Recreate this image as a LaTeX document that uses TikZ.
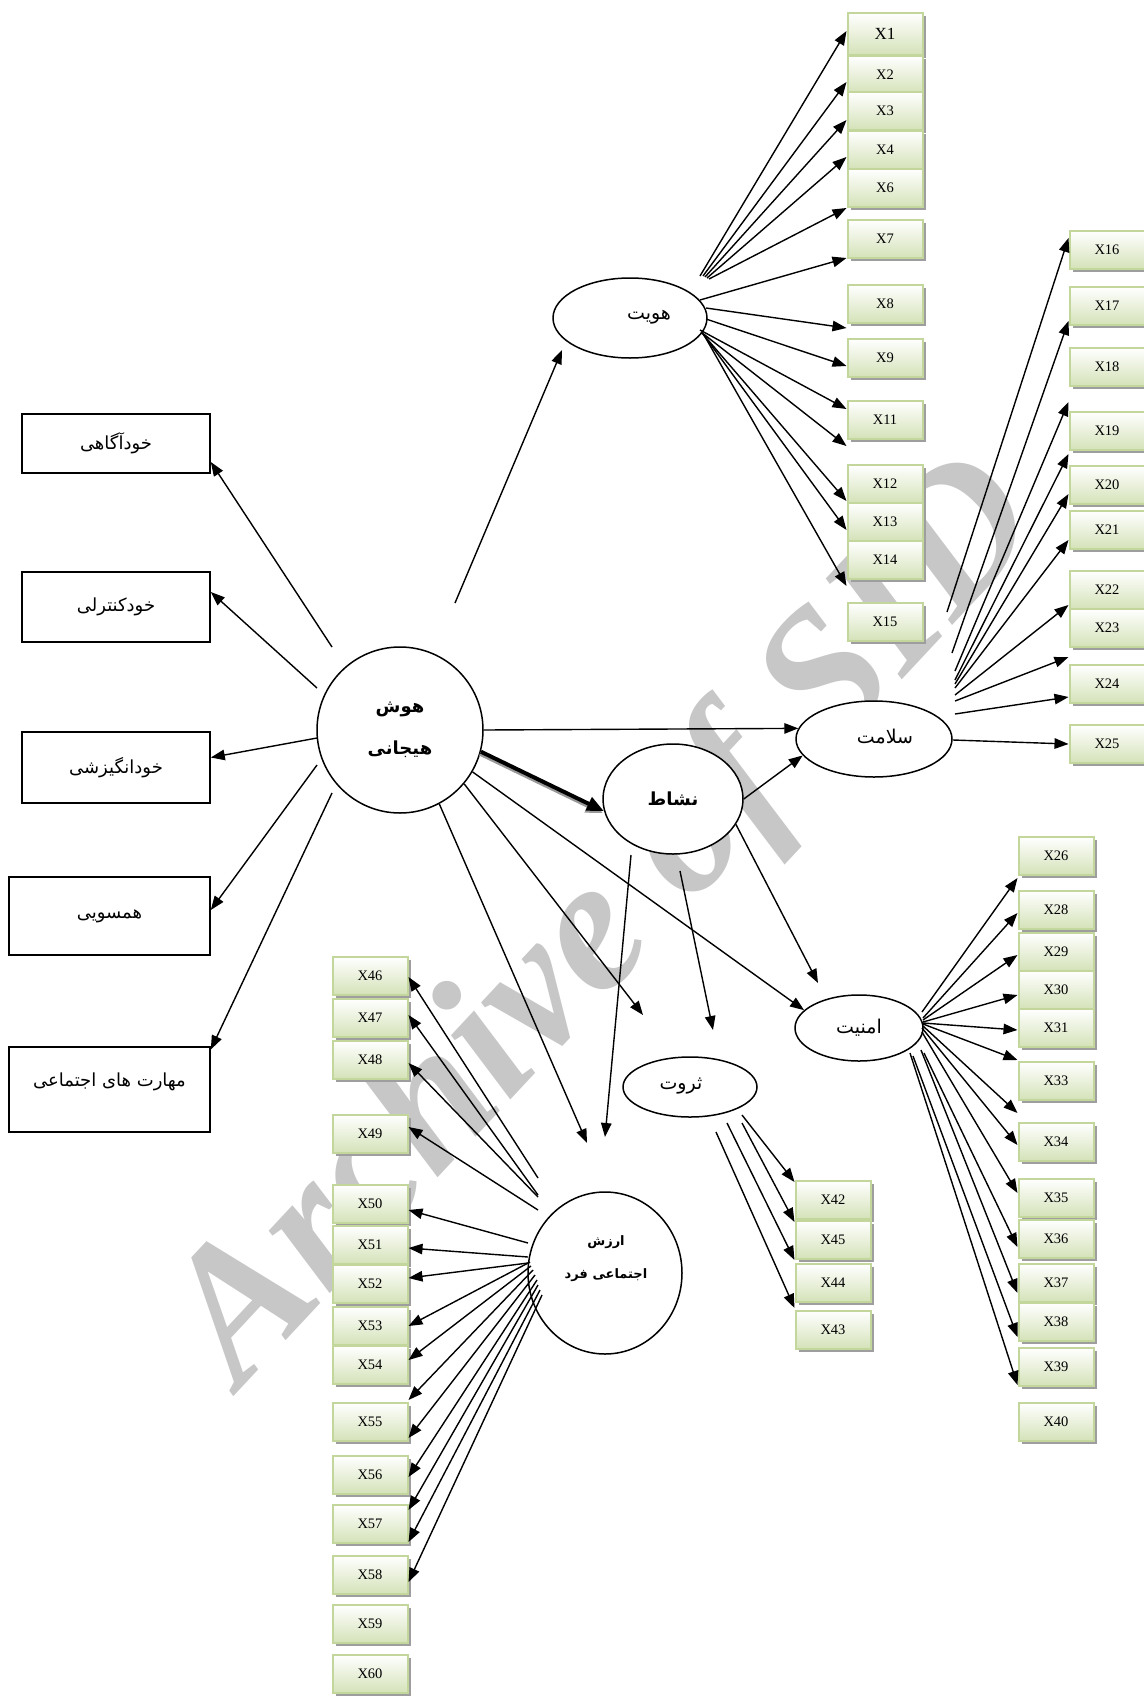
\documentclass[tikz,border=0pt]{standalone}
\usepackage{fontspec}
\setmainfont{Liberation Serif}
\newfontfamily\fa[Script=Arabic]{DejaVu Sans}
\TeXXeTstate=1
\usetikzlibrary{arrows.meta,shapes.geometric,shadows}
\definecolor{xgreen}{RGB}{195,214,155}
\definecolor{xlight}{RGB}{212,226,184}
\newcommand{\fatext}[1]{{\fa\beginR #1\endR}}
\tikzset{
  arr/.style={-{Triangle[length=14pt,width=10.5pt]}, line width=1.4pt},
  xbox/.style={draw=xgreen, line width=2pt, top color=white, bottom color=xlight,
    minimum width=75pt, minimum height=38pt, inner sep=0pt, font=\fontsize{14.5}{14}\selectfont,
    drop shadow={shadow xshift=3pt, shadow yshift=-3pt, fill=black!38, opacity=1}},
  fbox/.style={draw, line width=1.6pt, fill=white, inner sep=0pt, font=\fontsize{18}{20}\selectfont},
  lat/.style={ellipse, draw, fill=white, line width=1.5pt, inner sep=0pt},
  lab/.style={inner sep=0pt, font=\fontsize{19}{20}\selectfont}
}

\begin{document}
\begin{tikzpicture}[x=1pt,y=-1pt]
         \fill[white] (0,0) rectangle (1143,1697);
         \useasboundingbox (0,0) rectangle (1143,1697);
         % watermark
         \node[rotate=47, text=black!22, font=\fontsize{190}{190}\selectfont\bfseries\itshape] (wm) at (610,925) {Archive of SID};

         % Define nodes
         \node[lat, circle, minimum size=166pt, align=center, font=\fontsize{18}{42}\selectfont\bfseries] (hh) at (400,730) {\fatext{هوش}\\\fatext{هیجانی}};
         \node[lat, minimum width=154pt, minimum height=80pt] (hv) at (630,318) {};
         \node[lab] (hvt) at (649,317) {\fatext{هویت}};
         \node[lat, minimum width=156pt, minimum height=76pt] (slm) at (874,739) {};
         \node[lab] (slmt) at (885,737) {\fatext{سلامت}};
         \node[lat, minimum width=140pt, minimum height=110pt, font=\fontsize{18}{20}\selectfont\bfseries] (nsh) at (673,799) {\fatext{نشاط}};
         \node[lat, minimum width=128pt, minimum height=66pt, font=\fontsize{19}{20}\selectfont] (amn) at (859,1028) {\fatext{امنیت}};
         \node[lat, minimum width=134pt, minimum height=60pt] (srt) at (690,1087) {};
         \node[lab] (srtt) at (681,1086) {\fatext{ثروت}};
         \node[lat, minimum width=154pt, minimum height=162pt] (arz) at (605,1273) {};
         \node[lab, align=center, font=\fontsize{13}{33}\selectfont\bfseries] (arzt) at (606,1259) {\fatext{ارزش}\\\fatext{اجتماعی فرد}};

         \node[fbox, minimum width=188pt, minimum height=59pt] (k1) at (116,443.5) {\fatext{خودآگاهی}};
         \node[fbox, minimum width=188pt, minimum height=70pt] (k2) at (116,607) {\fatext{خودکنترلی}};
         \node[fbox, minimum width=188pt, minimum height=71pt] (k3) at (116,767.5) {\fatext{خودانگیزشی}};
         \node[fbox, minimum width=201pt, minimum height=78pt] (k4) at (109.5,916) {\fatext{همسویی}};
         \node[fbox, minimum width=201pt, minimum height=85pt, text depth=20pt] (k5) at (109.5,1089.5) {\fatext{مهارت های اجتماعی}};

         \node[xbox, minimum height=42pt, font=\fontsize{17}{17}\selectfont] (x1) at (885,34) {X1};
         \foreach \n/\y in {2/75,3/111,4/150,6/188,7/239,8/304,9/358,11/420,12/484,13/522,14/560,15/622}
           \node[xbox] (x\n) at (885,\y) {X\n};
         \foreach \n/\y in {16/250,17/306,18/367,19/431,20/485,21/530,22/590,23/628,24/684,25/744}
           \node[xbox] (x\n) at (1107,\y) {X\n};
         \foreach \n/\y in {26/856,28/910,29/952,30/990,31/1028,33/1081,34/1142,35/1198,36/1239,37/1283,38/1322,39/1367,40/1422}
           \node[xbox] (x\n) at (1056,\y) {X\n};
         \foreach \n/\y in {42/1200,45/1240,44/1283,43/1330}
           \node[xbox] (x\n) at (833,\y) {X\n};
         \foreach \n/\y in {46/976,47/1018,48/1060,49/1134,50/1204,51/1245,52/1284,53/1326,54/1365,55/1422,56/1475,57/1524,58/1575,59/1624,60/1674}
           \node[xbox] (x\n) at (370,\y) {X\n};

         % free ends
         \coordinate (hhs0) at (455,603);
         \coordinate (hvin) at (562,350);
         \coordinate (hhs1) at (332,647);
         \coordinate (hhs2) at (317,688);
         \coordinate (hhs3) at (317,738);
         \coordinate (hhs4) at (317,765);
         \coordinate (hhs5) at (332,793);
         \coordinate (srtin1) at (643,1015);
         \coordinate (srtin2) at (713,1030);
         \coordinate (arzin1) at (587,1143);
         \coordinate (arzin2) at (605,1137);
         \coordinate (amnin) at (818,983);
         \coordinate (nshs1) at (680,871);
         \coordinate (nshs2) at (631,855);

         % Draw edges
         \draw[arr] (hhs0) -- (hvin);
         \draw[arr] (hhs1) -- ([yshift=-18.5]k1.east);
         \draw[arr] (hhs2) -- ([yshift=15]k2.east);
         \draw[arr] (hhs3) -- ([yshift=10]k3.east);
         \draw[arr] (hhs4) -- ([yshift=6]k4.east);
         \draw[arr] (hhs5) -- ([yshift=40]k5.east);
         \draw[arr] (hh.0) -- (slm.172);
         \draw[arr] (hh.-30) -- (amn.162);
         \draw[arr] (hh.-40) -- (srtin1);
         \draw[arr] (hh.-62) -- (arzin1);
         \draw[line width=4pt, black!40, -{Triangle[length=17pt,width=14pt]}, transform canvas={xshift=-1pt,yshift=-2pt}] (hh.-15) -- (nsh.190);
         \draw[line width=4pt, -{Triangle[length=17pt,width=14pt]}] (hh.-15) -- (nsh.190);
         \draw[arr] (nsh.0) -- (slm.193);
         \draw[arr] (nsh.-22) -- (amnin);
         \draw[arr] (nshs1) -- (srtin2);
         \draw[arr] (nshs2) -- (arzin2);

         \foreach \i/\sx/\sy/\tg/\dd in {1/700/276/1/3, 2/703/276/2/-7, 3/705/277/3/-9, 4/707/278/4/-7, 5/709/279/6/-20,
             6/700/300/7/-19, 7/706/308/8/-24, 8/706/319/9/-8, 9/700/330/11/11, 10/701/332/11/-26,
             11/702/333/12/-17, 12/703/334/13/-8, 13/704/335/15/36} {
           \coordinate (hvs\i) at (\sx,\sy);
           \draw[arr] (hvs\i) -- ([yshift=\dd]x\tg.west);
         }
         \foreach \i/\sx/\sy/\tg/\dd in {1/947/612/16/12, 2/952/653/17/-15, 3/955/671/19/29, 4/955/680/19/-23,
             5/955/684/20/-9, 6/955/688/21/-10, 7/955/695/22/-15, 8/955/701/24/27, 9/955/714/24/-13, 10/953/740/25/0} {
           \coordinate (slms\i) at (\sx,\sy);
           \draw[arr] (slms\i) -- ([yshift=\dd]x\tg.west);
         }
         \foreach \i/\sx/\sy/\tg/\dd in {1/922/1012/26/-22, 2/923/1018/28/-3, 3/923/1020/29/-3, 4/923/1022/30/-5,
             5/923/1023/31/-2, 6/923/1024/33/21, 7/923/1026/33/-32, 8/922/1028/34/-3, 9/922/1032/35/5,
             10/924/1053/36/-8, 11/921/1050/37/-10, 12/913/1056/38/-15, 13/910/1053/39/-18} {
           \coordinate (amns\i) at (\sx,\sy);
           \draw[arr] (amns\i) -- ([yshift=\dd]x\tg.west);
         }
         \foreach \i/\sx/\sy/\tg/\dd in {1/742/1115/42/18, 2/742/1123/45/18, 3/727/1123/44/23, 4/716/1132/43/22} {
           \coordinate (srts\i) at (\sx,\sy);
           \draw[arr] (srts\i) -- ([yshift=\dd]x\tg.west);
         }
         \foreach \i/\sx/\sy/\tg/\dd in {1/538/1178/46/-1, 2/538/1195/47/3, 3/538/1197/48/-3, 4/538/1210/49/7,
             5/528/1243/50/-6, 6/528/1257/51/-3, 7/528/1263/52/6, 8/530/1262/53/0, 9/531/1266/54/5,
             10/533/1270/55/22, 11/535/1275/55/-16, 12/537/1280/56/-2, 13/538/1285/57/14,
             14/540/1290/57/-18, 15/542/1295/58/-7} {
           \coordinate (arzs\i) at (\sx,\sy);
           \draw[arr] (arzs\i) -- ([yshift=\dd]x\tg.east);
         }
\end{tikzpicture}
\end{document}
